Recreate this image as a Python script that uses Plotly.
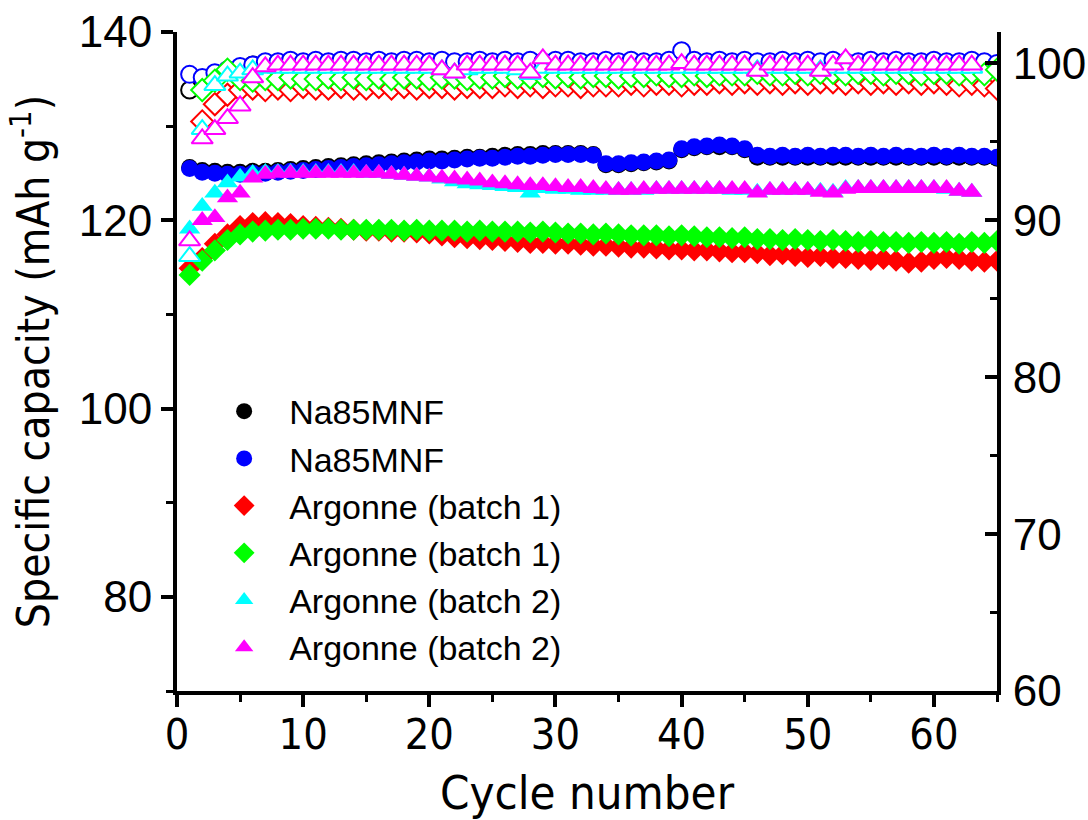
import plotly.graph_objects as go

# Cycle indices
cycles = list(range(1, 66))          # circles and filled diamonds
cycles_b2 = list(range(1, 64))       # batch 2 (triangles)
cycles_b1_ce = list(range(2, 66))    # batch 1 efficiency starts at cycle 2

# Specific capacity (mAh g-1), left axis
black_cap = [125.6, 125.3, 125.2, 125.1, 125.1, 125.2, 125.2, 125.3, 125.4, 125.5,
             125.6, 125.7, 125.8, 125.9, 126.0, 126.1, 126.2, 126.3, 126.4, 126.5,
             126.5, 126.6, 126.7, 126.7, 126.8, 126.9, 127.0, 127.0, 127.1, 127.1,
             127.1, 127.1, 127.0, 125.9, 125.9, 126.0, 126.1, 126.2, 126.3, 127.5,
             127.7, 127.8, 127.8, 127.8, 127.5, 126.7, 126.7, 126.7, 126.7, 126.7,
             126.7, 126.7, 126.7, 126.7, 126.7, 126.7, 126.7, 126.7, 126.7, 126.7,
             126.7, 126.7, 126.7, 126.7, 126.6]
blue_cap = [125.5, 125.1, 125.0, 124.9, 124.9, 125.0, 125.0, 125.1, 125.2, 125.3,
            125.4, 125.5, 125.6, 125.7, 125.8, 125.9, 126.0, 126.1, 126.2, 126.3,
            126.3, 126.4, 126.5, 126.6, 126.6, 126.7, 126.8, 126.8, 126.9, 127.0,
            127.0, 127.0, 126.9, 126.0, 126.0, 126.1, 126.2, 126.3, 126.4, 127.6,
            127.8, 127.9, 128.0, 127.9, 127.6, 126.9, 126.8, 126.9, 126.8, 126.9,
            126.8, 126.9, 126.9, 126.8, 126.9, 126.8, 126.9, 126.8, 126.8, 126.9,
            126.8, 126.9, 126.8, 126.8, 126.7]
red_cap = [114.9, 116.0, 117.5, 118.5, 119.4, 119.7, 119.8, 119.7, 119.6, 119.4,
           119.3, 119.2, 119.1, 119.0, 118.9, 118.9, 118.8, 118.8, 118.7, 118.6,
           118.4, 118.2, 118.1, 118.0, 117.9, 117.8, 117.7, 117.6, 117.6, 117.5,
           117.5, 117.4, 117.3, 117.3, 117.2, 117.1, 117.1, 117.0, 116.9, 116.9,
           116.8, 116.8, 116.7, 116.6, 116.6, 116.5, 116.3, 116.4, 116.2, 116.1,
           116.2, 116.0, 116.0, 115.9, 115.8, 115.9, 115.7, 115.5, 115.6, 115.9,
           116.0, 115.9, 115.7, 115.6, 115.7]
green_cap = [114.2, 115.7, 116.8, 117.9, 118.5, 118.8, 118.9, 119.0, 119.0, 119.1,
             119.1, 119.1, 119.0, 119.0, 119.0, 119.0, 119.0, 118.9, 119.0, 118.9,
             118.9, 118.9, 118.8, 118.9, 118.8, 118.8, 118.8, 118.7, 118.8, 118.7,
             118.6, 118.6, 118.5, 118.6, 118.5, 118.4, 118.4, 118.4, 118.3, 118.4,
             118.3, 118.2, 118.2, 118.1, 118.2, 118.0, 118.0, 117.9, 118.0, 117.9,
             117.8, 117.9, 117.8, 117.7, 117.8, 117.7, 117.7, 117.6, 117.7, 117.6,
             117.7, 117.5, 117.7, 117.6, 117.8]
cyan_cap = [119.1, 121.5, 122.9, 124.0, 124.6, 125.0, 125.1, 125.1, 125.1, 125.1,
            125.1, 125.1, 125.1, 125.1, 125.0, 125.0, 124.9, 124.8, 124.7, 124.6,
            124.4, 124.1, 123.9, 123.8, 123.7, 123.6, 123.5, 122.9, 123.4, 123.3,
            123.3, 123.2, 123.2, 123.2, 123.2, 123.2, 123.2, 123.3, 123.3, 123.3,
            123.3, 123.3, 123.3, 123.2, 123.2, 123.0, 123.2, 123.2, 123.2, 123.2,
            123.1, 123.0, 123.4, 123.4, 123.4, 123.4, 123.4, 123.4, 123.4, 123.4,
            123.3, 123.1, 123.0]
magenta_cap = [117.9, 120.0, 120.3, 122.4, 122.9, 124.5, 124.9, 125.0, 125.0, 125.0,
               125.0, 125.0, 125.0, 125.0, 125.0, 125.0, 124.9, 124.8, 124.7, 124.6,
               124.5, 124.4, 124.3, 124.2, 124.0, 123.9, 123.8, 123.7, 123.7, 123.6,
               123.5, 123.5, 123.4, 123.3, 123.2, 123.2, 123.3, 123.3, 123.3, 123.3,
               123.3, 123.3, 123.3, 123.3, 123.3, 122.9, 123.2, 123.2, 123.2, 123.2,
               123.0, 122.9, 123.3, 123.4, 123.4, 123.4, 123.4, 123.4, 123.4, 123.4,
               123.4, 123.1, 123.0]

# Coulombic efficiency (%), right axis
black_ce = [98.3, 98.9, 99.2, 99.5, 99.7, 99.9, 100.0, 100.0, 100.1, 100.0,
            100.1, 100.0, 100.1, 100.1, 100.0, 100.1, 100.0, 100.1, 100.1, 100.0,
            100.1, 100.0, 100.0, 100.1, 100.0, 100.1, 100.0, 100.1, 100.0, 100.1,
            100.1, 100.0, 100.0, 100.1, 100.0, 100.1, 100.0, 100.0, 100.1, 100.2,
            100.1, 100.0, 100.1, 100.0, 100.1, 100.0, 100.0, 100.1, 100.0, 100.1,
            100.0, 100.1, 100.0, 100.0, 100.1, 100.0, 100.1, 100.0, 100.0, 100.1,
            100.0, 100.0, 100.1, 100.0, 99.9]
blue_ce = [99.3, 99.1, 99.4, 99.6, 99.8, 99.9, 100.1, 100.1, 100.2, 100.1,
           100.2, 100.1, 100.2, 100.2, 100.1, 100.2, 100.1, 100.2, 100.2, 100.1,
           100.2, 100.1, 100.1, 100.2, 100.1, 100.2, 100.1, 100.2, 100.1, 100.2,
           100.2, 100.1, 100.1, 100.2, 100.1, 100.2, 100.1, 100.1, 100.2, 100.8,
           100.2, 100.1, 100.2, 100.1, 100.2, 100.1, 100.1, 100.2, 100.1, 100.2,
           100.1, 100.2, 100.1, 100.1, 100.2, 100.1, 100.2, 100.1, 100.1, 100.2,
           100.1, 100.1, 100.2, 100.1, 100.0]
red_ce = [96.3, 97.4, 98.0,
          98.3, 98.4, 98.3, 98.4, 98.3, 98.5, 98.4, 98.4, 98.5, 98.4,
          98.4, 98.5, 98.4, 98.5, 98.4, 98.5, 98.5, 98.4, 98.5, 98.5,
          98.5, 98.6, 98.5, 98.6, 98.5, 98.6, 98.6, 98.5, 98.6, 98.6,
          98.6, 98.7, 98.6, 98.7, 98.7, 98.6, 98.7, 98.7, 98.8, 98.7,
          98.8, 98.7, 98.8, 98.7, 98.8, 98.7, 98.8, 98.8, 98.7, 98.8,
          98.7, 98.8, 98.7, 98.8, 98.7, 98.8, 98.7, 98.6, 98.7, 98.6,
          98.4]
green_ce = [98.3, 98.9, 99.6,
            99.0, 98.9, 99.0, 99.0, 99.1, 99.0, 99.0, 99.1, 99.0, 99.1,
            99.0, 99.1, 99.0, 99.1, 99.1, 99.0, 99.1, 99.1, 99.0, 99.1,
            99.1, 99.2, 99.1, 99.1, 99.2, 99.1, 99.2, 99.1, 99.2, 99.2,
            99.1, 99.2, 99.2, 99.3, 99.2, 99.2, 99.3, 99.2, 99.3, 99.3,
            99.3, 99.4, 99.3, 99.3, 99.4, 99.3, 99.4, 99.4, 99.3, 99.4,
            99.4, 99.3, 99.4, 99.4, 99.3, 99.4, 99.4, 99.3, 99.4, 99.3,
            99.6]
cyan_ce = [87.7, 95.8, 98.6, 99.2, 99.4, 99.6,
           99.7, 99.7, 99.7, 99.7, 99.7, 99.7, 99.7, 99.7, 99.7, 99.7,
           99.7, 99.7, 99.7, 99.7, 99.6, 99.4, 99.6, 99.7, 99.7, 99.7,
           99.6, 99.3, 99.7, 99.7, 99.7, 99.7, 99.7, 99.7, 99.7, 99.7,
           99.7, 99.7, 99.7, 99.7, 99.7, 99.7, 99.7, 99.7, 99.7, 99.6,
           99.7, 99.7, 99.7, 99.7, 99.6, 99.7, 99.7, 99.7, 99.7, 99.7,
           99.7, 99.7, 99.7, 99.7, 99.7, 99.7, 99.7]
magenta_ce = [88.7, 95.2, 95.8, 96.5, 97.3, 99.1,
              99.8, 99.9, 99.9, 99.9, 99.9, 99.9, 99.9, 99.9, 99.9, 99.9,
              99.9, 99.9, 99.9, 99.9, 99.6, 99.4, 99.9, 99.9, 99.9, 99.9,
              99.9, 99.4, 100.3, 99.9, 99.9, 99.9, 99.9, 99.9, 99.9, 99.9,
              99.9, 99.9, 99.9, 100.0, 99.9, 99.9, 99.9, 99.9, 99.9, 99.5,
              99.9, 99.9, 99.9, 99.9, 99.5, 99.9, 100.3, 99.9, 99.9, 99.9,
              99.9, 99.9, 99.9, 99.9, 99.9, 99.9, 99.9]

x_ticks = [0, 10, 20, 30, 40, 50, 60]
y_left_ticks = [80, 100, 120, 140]
y_right_ticks = [60, 70, 80, 90, 100]

SANS = "Liberation Sans, Arial, sans-serif"
NARROW = "Liberation Sans Narrow, Arial Narrow, DejaVu Sans Condensed, sans-serif"

series = [
    # name, colour, symbol, size, x for capacity, capacity, x for efficiency, efficiency
    ("Na85MNF", "#000000", "circle", 17, cycles, black_cap, cycles, black_ce),
    ("Na85MNF", "#0000FF", "circle", 17, cycles, blue_cap, cycles, blue_ce),
    ("Argonne (batch 1)", "#FF0000", "diamond", 17, cycles, red_cap, cycles_b1_ce, red_ce),
    ("Argonne (batch 1)", "#00FF00", "diamond", 17, cycles, green_cap, cycles_b1_ce, green_ce),
    ("Argonne (batch 2)", "#00FFFF", "triangle-up", 18.5, cycles_b2, cyan_cap, cycles_b2, cyan_ce),
    ("Argonne (batch 2)", "#FF00FF", "triangle-up", 18.5, cycles_b2, magenta_cap, cycles_b2, magenta_ce),
]

fig = go.Figure()

# Filled symbols: capacity on the left axis
for name, col, sym, size, xc, cap, xe, ce in series:
    fig.add_trace(go.Scatter(
        x=xc, y=cap, mode="markers", name=name,
        marker=dict(symbol=sym, size=size, color=col, line=dict(width=0)),
        xaxis="x", yaxis="y", showlegend=True,
    ))

# Open symbols: coulombic efficiency on the right axis
for name, col, sym, size, xc, cap, xe, ce in series:
    fig.add_trace(go.Scatter(
        x=xe, y=ce, mode="markers", name=name,
        marker=dict(symbol=sym, size=size, color="white", line=dict(width=2, color=col)),
        xaxis="x", yaxis="y2", showlegend=False,
    ))

common = dict(showgrid=False, zeroline=False, showline=True, linecolor="black",
              linewidth=4, tickcolor="black", tickwidth=4)

fig.update_layout(
    width=1088, height=820,
    margin=dict(l=177, r=91, t=32, b=129, autoexpand=False),
    paper_bgcolor="white", plot_bgcolor="white",
    xaxis=dict(
        range=[0, 65], tickvals=x_ticks, ticks="outside", ticklen=12,
        minor=dict(dtick=5, tick0=0, ticks="outside", ticklen=7, tickwidth=3, tickcolor="black"),
        tickfont=dict(family=NARROW, size=43, color="black"),
        ticklabelstandoff=-10,
        title=dict(text="Cycle number", font=dict(family=NARROW, size=47, color="black"), standoff=22),
        **common,
    ),
    xaxis2=dict(
        range=[0, 65], overlaying="x", side="top", anchor="y",
        tickvals=x_ticks, ticks="inside", ticklen=12, showticklabels=False,
        minor=dict(dtick=5, tick0=0, ticks="inside", ticklen=7, tickwidth=3, tickcolor="black"),
        **common,
    ),
    yaxis=dict(
        range=[70, 140], tickvals=y_left_ticks, ticks="outside", ticklen=12,
        minor=dict(dtick=10, tick0=0, ticks="outside", ticklen=7, tickwidth=3, tickcolor="black"),
        tickfont=dict(family=SANS, size=44, color="black"),
        title=dict(text="Specific capacity (mAh g<sup>-1</sup>)",
                   font=dict(family=NARROW, size=44, color="black"), standoff=16),
        **common,
    ),
    yaxis2=dict(
        range=[60, 102], overlaying="y", side="right", anchor="x",
        tickvals=y_right_ticks, ticks="inside", ticklen=12,
        minor=dict(dtick=5, tick0=0, ticks="inside", ticklen=7, tickwidth=3, tickcolor="black"),
        tickfont=dict(family=SANS, size=44, color="black"),
        ticklabelstandoff=3,
        **common,
    ),
    legend=dict(
        x=0.027, y=0.468, xanchor="left", yanchor="top",
        bgcolor="rgba(0,0,0,0)", borderwidth=0,
        font=dict(family=SANS, size=34, color="black"),
        tracegroupgap=0, itemsizing="trace", itemwidth=80,
    ),
    showlegend=True,
)

fig.write_html("out.html")
